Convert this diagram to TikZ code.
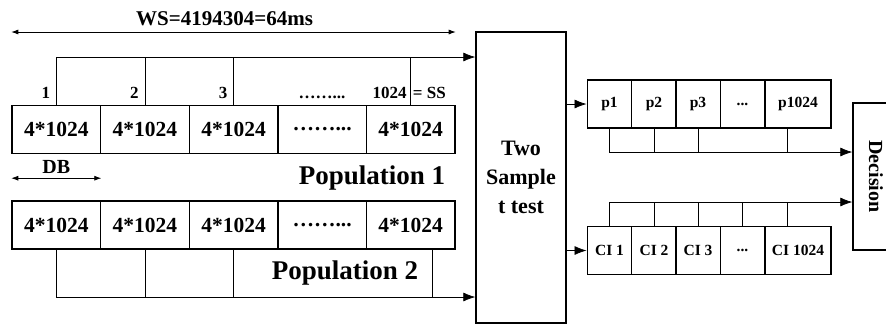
\documentclass[tikz,border=0pt]{standalone}
\usepackage{fontspec}
\setmainfont{Liberation Serif}
\usetikzlibrary{arrows.meta,positioning}

\tikzset{
  blk/.style={draw, line width=1.4pt, inner sep=0pt, minimum height=48pt, font=\bfseries\fontsize{21.5}{24}\selectfont},
  cell/.style={blk, minimum width=88.6pt},
  pcell/.style={blk, minimum width=44.5pt, font=\bfseries\fontsize{15.5}{18}\selectfont},
  bus/.style={line width=0.7pt},
  span/.style={line width=0.7pt, {Latex[length=7pt,width=5pt]}-{Latex[length=7pt,width=5pt]}},
  lbl/.style={inner sep=1pt, font=\bfseries\fontsize{17}{20}\selectfont},
  poplbl/.style={inner sep=0pt, font=\bfseries\fontsize{27}{30}\selectfont},
}

\begin{document}
\begin{tikzpicture}[x=1pt, y=-1pt, >={Latex[length=12pt,width=9pt]}]
  \useasboundingbox (0,0) rectangle (886,325);
  % population 1
  \node[cell] (a1) at (56.3,129.5) {4*1024};
  \node[cell] (a2) at (144.9,129.5) {4*1024};
  \node[cell] (a3) at (233.5,129.5) {4*1024};
  \node[cell] (a4) at (322.1,129.5) {……...};
  \node[cell] (a5) at (410.7,129.5) {4*1024};
  % population 2
  \node[cell] (b1) at (56.3,225) {4*1024};
  \node[cell] (b2) at (144.9,225) {4*1024};
  \node[cell] (b3) at (233.5,225) {4*1024};
  \node[cell] (b4) at (322.1,225) {……...};
  \node[cell] (b5) at (410.7,225) {4*1024};
  \node[poplbl] (pop1) at (372,178) {Population 1};
  \node[poplbl] (pop2) at (345,273) {Population 2};
  % test block
  \node[draw, line width=1.4pt, minimum width=90pt, minimum height=291pt, align=center,
        font=\bfseries\fontsize{22}{29}\selectfont] (tst) at (521,177.5) {Two\\Sample\\t test};
  % p values and confidence intervals
  \node[pcell] (p1) at (609.5,104) {p1};
  \node[pcell] (p2) at (654,104) {p2};
  \node[pcell] (p3) at (698,104) {p3};
  \node[pcell] (p4) at (742.5,104) {...};
  \node[pcell, minimum width=66pt] (p5) at (798,104) {p1024};
  \node[pcell] (c1) at (609.5,250.5) {CI 1};
  \node[pcell] (c2) at (654,250.5) {CI 2};
  \node[pcell] (c3) at (698,250.5) {CI 3};
  \node[pcell] (c4) at (742.5,250.5) {...};
  \node[pcell, minimum width=66pt] (c5) at (798,250.5) {CI 1024};
  \node[draw, line width=1.4pt, rotate=-90, minimum width=147pt, minimum height=46pt,
        font=\bfseries\fontsize{20}{24}\selectfont] (dec) at (876,176.5) {Decision};

  % window and block sizes
  \draw[span] (a1.north west |- 0,32) -- node[pos=0.48, above=3pt, font=\bfseries\fontsize{21}{24}\selectfont] {WS=4194304=64ms} (a5.north east |- 0,32);
  \draw[span] ([yshift=-24pt]a1.south west) -- node[pos=0.5, above=1pt, font=\bfseries\fontsize{20}{24}\selectfont] {DB} ([yshift=-24pt]a1.south east);
  \node[lbl, above left=5pt and 5pt of a1.north] {1};
  \node[lbl, above left=5pt and 5pt of a2.north] {2};
  \node[lbl, above left=5pt and 5pt of a3.north] {3};
  \node[lbl, above=5pt of a4.north] {……...};
  \node[lbl, above left=5pt and 3pt of a5.north] {1024};
  \node[lbl, above right=5pt and 1pt of a5.north] {= SS};

  % samples into the test
  \coordinate (topbus) at (0,57);
  \coordinate (botbus) at (0,297);
  \draw[bus,->] (a1.north) |- (tst.west |- topbus);
  \draw[bus] (a2.north) -- (a2.north |- topbus);
  \draw[bus] (a3.north) -- (a3.north |- topbus);
  \draw[bus] (a5.north) -- (a5.north |- topbus);
  \draw[bus,->] (b1.south) |- (tst.west |- botbus);
  \draw[bus] (b2.south) -- (b2.south |- botbus);
  \draw[bus] (b3.south) -- (b3.south |- botbus);
  \draw[bus] ([xshift=21.3pt]b5.south) -- ([xshift=21.3pt]b5.south |- botbus);

  % test outputs
  \draw[bus,->] (tst.east |- p1.west) -- (p1.west);
  \draw[bus,->] (tst.east |- c1.west) -- (c1.west);

  % into the decision
  \coordinate (pbus) at (0,152);
  \coordinate (cbus) at (0,202);
  \draw[bus,->] (p1.south) |- (dec.south |- pbus);
  \draw[bus] (p2.south) -- (p2.south |- pbus);
  \draw[bus] (p3.south) -- (p3.south |- pbus);
  \draw[bus] ([xshift=-11pt]p5.south) -- ([xshift=-11pt]p5.south |- pbus);
  \draw[bus,->] (c1.north) |- (dec.south |- cbus);
  \draw[bus] (c2.north) -- (c2.north |- cbus);
  \draw[bus] (c3.north) -- (c3.north |- cbus);
  \draw[bus] (c4.north) -- (c4.north |- cbus);
  \draw[bus] ([xshift=-11pt]c5.north) -- ([xshift=-11pt]c5.north |- cbus);
\end{tikzpicture}
\end{document}
